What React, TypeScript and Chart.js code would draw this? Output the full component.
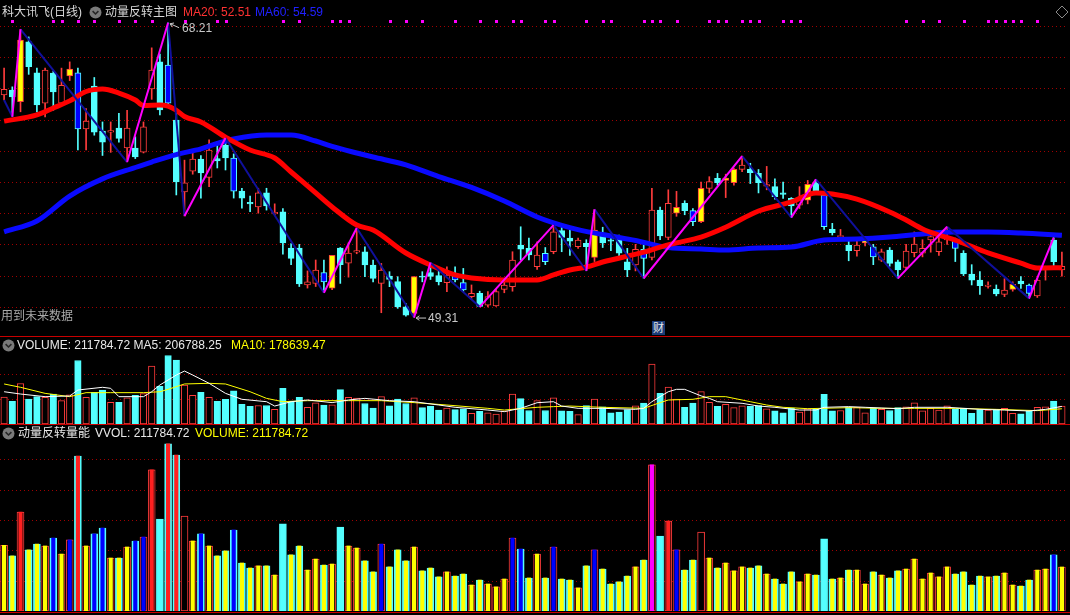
import React, { useEffect, useRef } from "react";
import { Chart, registerables } from "chart.js";
Chart.register(...registerables);

// ---------------- data ----------------
const DAYS = Array.from({ length: 130 }, (_, i) => `D${i + 1}`);

const OPEN = [
  63.58, 63.9, 63.15, 66.99, 65.0, 63.06, 64.99, 63.06, 64.8, 65.0,
  61.4, 64.15, 61.27, 61.2, 61.46, 60.18, 60.18, 59.92, 63.96, 65.7,
  65.5, 61.97, 57.36, 58.7, 59.47, 58.3, 59.5, 60.37, 59.54, 57.42,
  56.7, 56.4, 57.3, 55.95, 56.08, 53.77, 53.77, 51.4, 51.5, 52.2,
  51.2, 53.77, 52.8, 53.5, 53.53, 52.68, 51.5, 51.97, 51.61, 50.0,
  49.58, 51.97, 52.2, 52.0, 51.55, 52.14, 51.55, 50.65, 50.86, 50.11,
  50.05, 51.12, 51.29, 53.96, 53.75, 52.57, 53.43, 53.53, 54.88, 54.4,
  53.85, 54.07, 53.17, 54.6, 54.3, 54.45, 52.89, 52.68, 53.68, 53.17,
  56.2, 54.45, 56.0, 56.63, 56.16, 55.45, 57.59, 58.23, 58.1, 57.95,
  58.81, 58.81, 58.55, 57.74, 57.7, 57.3, 56.95, 56.52, 56.84, 57.91,
  57.16, 54.96, 54.5, 53.96, 53.6, 54.1, 53.85, 52.99, 53.64, 52.89,
  52.53, 53.47, 53.43, 54.28, 53.53, 54.28, 54.28, 53.43, 52.1, 51.71,
  51.3, 51.14, 50.8, 51.12, 51.65, 51.39, 50.69, 52.4, 54.28, 52.36,
];
const HIGH = [
  65.3, 64.1, 67.79, 67.3, 65.3, 65.3, 65.1, 65.3, 65.7, 65.3,
  62.7, 64.7, 61.85, 61.85, 62.4, 62.6, 60.9, 61.85, 66.6, 66.2,
  68.21, 62.5, 59.4, 60.05, 59.7, 60.7, 60.6, 60.82, 59.8, 57.6,
  57.1, 57.6, 57.6, 56.6, 56.3, 54.05, 54.0, 52.3, 53.0, 53.0,
  53.3, 53.8, 54.1, 55.05, 53.85, 53.0, 52.78, 52.25, 51.93, 50.2,
  51.93, 52.25, 52.83, 52.3, 52.57, 52.57, 52.46, 51.4, 51.0, 50.97,
  51.1, 51.8, 53.53, 55.13, 54.4, 54.17, 53.8, 55.24, 55.1, 54.9,
  54.4, 54.3, 56.25, 55.1, 54.6, 54.6, 53.75, 54.0, 53.96, 57.6,
  56.4, 57.5, 57.4, 56.8, 56.3, 58.0, 58.34, 58.55, 58.5, 58.9,
  59.66, 59.2, 58.8, 59.0, 58.2, 58.0, 57.0, 57.7, 58.1, 58.17,
  57.4, 55.35, 54.96, 54.2, 54.28, 54.5, 54.0, 53.7, 53.8, 53.0,
  54.0, 54.8, 54.3, 54.9, 54.5, 55.13, 54.4, 53.6, 52.7, 52.25,
  51.6, 51.4, 51.8, 51.6, 51.93, 51.45, 51.8, 52.6, 54.43, 53.5,
];
const LOW = [
  63.26, 62.19, 62.5, 64.9, 62.5, 62.17, 62.6, 62.9, 64.5, 60.05,
  60.05, 61.0, 59.7, 59.9, 60.56, 59.28, 59.5, 59.86, 63.3, 62.3,
  62.8, 57.17, 55.82, 58.5, 56.97, 57.7, 58.9, 58.77, 56.97, 56.33,
  56.1, 56.0, 56.2, 55.9, 53.38, 52.7, 51.3, 51.2, 51.3, 50.9,
  51.1, 51.5, 51.9, 53.4, 51.93, 51.6, 49.62, 51.29, 49.9, 49.4,
  49.31, 51.6, 51.75, 51.4, 50.97, 51.6, 50.97, 50.55, 50.0, 50.0,
  50.03, 50.9, 51.0, 53.0, 53.0, 52.4, 52.7, 53.4, 53.53, 53.3,
  53.75, 52.31, 52.9, 53.8, 53.6, 53.2, 51.93, 52.3, 51.83, 53.0,
  54.3, 54.3, 55.8, 55.9, 55.2, 55.4, 57.3, 57.8, 57.0, 57.8,
  58.66, 57.9, 57.3, 57.5, 56.9, 56.95, 55.73, 56.3, 56.6, 57.2,
  54.96, 54.6, 54.4, 52.95, 53.25, 53.9, 52.7, 52.9, 52.6, 51.82,
  52.4, 53.2, 53.2, 53.5, 53.3, 54.0, 52.9, 52.0, 51.4, 50.8,
  51.2, 50.7, 50.65, 51.0, 51.18, 50.54, 50.6, 51.71, 52.6, 51.97,
];
const CLOSE = [
  63.94, 63.45, 67.1, 65.39, 62.94, 65.18, 63.77, 64.2, 65.24, 61.4,
  61.9, 61.2, 60.56, 61.3, 60.8, 61.46, 59.6, 61.53, 65.18, 62.62,
  63.06, 58.0, 57.94, 59.47, 58.58, 60.05, 59.35, 59.54, 57.42, 56.97,
  56.6, 57.3, 56.46, 56.05, 54.1, 53.1, 51.46, 51.6, 52.35, 51.6,
  53.3, 52.7, 53.45, 53.6, 52.68, 51.82, 52.36, 51.76, 50.0, 49.47,
  51.93, 51.9, 51.95, 51.61, 52.03, 51.72, 51.08, 50.86, 50.02, 50.65,
  50.97, 51.4, 53.0, 53.7, 53.32, 53.32, 52.89, 54.8, 54.45, 54.2,
  54.28, 53.85, 54.92, 54.1, 54.2, 53.43, 52.36, 53.68, 53.1, 56.2,
  54.54, 56.63, 56.37, 56.16, 55.45, 57.59, 58.02, 57.95, 58.25, 58.81,
  59.09, 58.6, 57.95, 57.84, 57.06, 57.2, 56.46, 56.84, 57.85, 57.44,
  55.13, 54.75, 54.57, 53.6, 53.96, 54.5, 53.2, 53.53, 52.78, 52.36,
  53.57, 54.02, 53.75, 54.5, 54.17, 54.32, 53.75, 52.1, 51.71, 51.35,
  51.4, 50.82, 51.07, 51.44, 51.46, 50.86, 51.71, 52.45, 52.89, 52.6,
];
const VOLUME = [
  316000, 265000, 476000, 294000, 322000, 313000, 351000, 274000, 342000, 746000,
  313000, 371000, 399000, 255000, 255000, 308000, 337000, 356000, 679000, 443000,
  804000, 751000, 457000, 337000, 371000, 313000, 265000, 289000, 390000, 231000,
  207000, 217000, 217000, 173000, 419000, 270000, 313000, 197000, 250000, 221000,
  226000, 404000, 313000, 303000, 241000, 188000, 322000, 212000, 294000, 241000,
  308000, 193000, 207000, 164000, 188000, 168000, 178000, 125000, 149000, 130000,
  116000, 154000, 351000, 298000, 159000, 274000, 159000, 308000, 154000, 149000,
  111000, 217000, 294000, 202000, 130000, 140000, 168000, 212000, 245000, 703000,
  361000, 433000, 294000, 197000, 245000, 380000, 255000, 207000, 231000, 193000,
  212000, 207000, 217000, 178000, 154000, 130000, 188000, 140000, 178000, 173000,
  347000, 154000, 159000, 197000, 197000, 130000, 188000, 173000, 159000, 193000,
  202000, 250000, 154000, 183000, 164000, 212000, 178000, 188000, 125000, 168000,
  164000, 168000, 183000, 125000, 120000, 149000, 197000, 202000, 270000, 211784.72,
];

// special candles (highlighted bodies)
const YELLOW_CANDLES = [2, 8, 40, 50, 72, 82, 85, 88, 89, 98, 105, 123];
const BLUE_CANDLES = [9, 20, 28, 39, 55, 56, 66, 78, 84, 100, 106, 116, 125];

// zigzag pivots [day index, price]
const ZIGZAG = [
  [0, 63.26], [1, 62.19], [2, 67.79], [15, 59.28], [20, 68.21], [22, 55.82],
  [27, 60.82], [39, 50.9], [43, 55.05], [50, 49.31], [52, 52.83], [58, 50.0],
  [67, 55.24], [71, 52.31], [72, 56.25], [78, 51.83], [90, 59.66], [96, 55.73],
  [99, 58.17], [109, 51.82], [115, 55.13], [125, 50.54], [128, 54.43],
];

// moving averages [day index, value]
const MA20 = [
  [0, 61.9], [4, 62.3], [6, 62.74], [8, 63.2], [10, 63.8], [12, 63.96], [14, 63.7],
  [16, 63.26], [17, 62.9], [19, 62.94], [20, 62.87], [21, 62.6], [22, 62.2], [24, 61.85],
  [27, 60.88], [30, 60.05], [33, 59.54], [35, 58.64], [38, 57.3], [40, 56.4], [43, 55.24],
  [45, 54.92], [49, 53.45], [52, 52.68], [55, 52.04], [57, 51.85], [61, 51.72], [65, 51.72],
  [67, 52.04], [69, 52.36], [71, 52.55], [73, 52.87], [78, 53.5], [80, 53.83], [82, 54.1],
  [85, 54.47], [88, 55.1], [92, 56.14], [96, 56.72], [99, 57.3], [101, 57.23], [104, 56.9],
  [108, 56.08], [110, 55.56], [112, 54.99], [114, 54.6], [116, 54.28], [120, 53.45],
  [124, 52.8], [126, 52.49], [129, 52.51],
];
const MA60 = [
  [0, 54.81], [4, 55.5], [8, 57.1], [12, 58.2], [16, 58.93], [18, 59.28], [21, 59.76],
  [24, 60.12], [26, 60.47], [28, 60.76], [32, 61.01], [35, 61.01], [38, 60.63], [40, 60.28],
  [43, 59.86], [45, 59.6], [49, 59.1], [53, 58.35], [57, 57.65], [61, 56.78], [65, 55.76],
  [69, 55.08], [73, 54.63], [77, 54.25], [81, 53.8], [85, 53.71], [88, 53.64], [92, 53.77],
  [96, 53.83], [100, 54.28], [104, 54.35], [108, 54.47], [112, 54.67], [116, 54.79],
  [120, 54.79], [124, 54.73], [129, 54.59],
];
const VOL_MA5 = [
  [0, 379000], [2, 352000], [5, 321000], [8, 329000], [9, 399000], [12, 431000], [13, 419000],
  [14, 321000], [17, 321000], [18, 379000], [19, 458000], [21, 575000], [22, 622000],
  [23, 575000], [25, 478000], [27, 360000], [29, 290000], [32, 262000], [33, 211000],
  [35, 262000], [37, 282000], [40, 251000], [42, 282000], [44, 301000], [47, 274000],
  [50, 262000], [53, 223000], [55, 196000], [59, 164000], [61, 145000], [63, 184000],
  [65, 250000], [67, 262000], [68, 211000], [70, 184000], [73, 184000], [77, 172000],
  [78, 184000], [79, 262000], [80, 321000], [81, 379000], [82, 407000], [83, 407000],
  [85, 330000], [86, 301000], [87, 262000], [90, 243000], [92, 211000], [94, 196000],
  [97, 164000], [99, 164000], [100, 196000], [103, 204000], [105, 196000], [109, 180000],
  [111, 196000], [115, 196000], [119, 172000], [122, 164000], [125, 153000], [127, 172000],
  [129, 206788.25],
];
const VOL_MA10 = [
  [0, 470000], [2, 431000], [5, 360000], [8, 321000], [10, 368000], [13, 368000], [17, 368000],
  [19, 379000], [20, 407000], [22, 470000], [25, 478000], [27, 470000], [30, 379000],
  [32, 301000], [34, 262000], [37, 274000], [42, 274000], [46, 274000], [50, 251000],
  [54, 223000], [59, 184000], [61, 164000], [65, 196000], [67, 204000], [69, 211000],
  [73, 196000], [78, 184000], [80, 251000], [81, 282000], [84, 290000], [86, 321000],
  [88, 321000], [91, 262000], [93, 223000], [95, 196000], [98, 180000], [103, 192000],
  [107, 184000], [111, 184000], [116, 184000], [121, 172000], [126, 157000], [129, 178639.47],
];

// inner stick of the momentum-volume panel: Y yellow, B blue, R red, M magenta, - none
const VVOL_MARK =
  "YYRYYYBYBR" + "YBBYYYBBR-" + "RR-YBYYYBY" + "YYYY-YYYYY" + "Y-YYYYBYYY" +
  "YYYYYYYYYY" + "YYBBYYYBYY" + "YYBYYYYYYM" + "-RBYY-YYYY" + "YYYYYYYYYY" +
  "-YYYYYYYYY" + "YYYYYYYYYY" + "YYYYYYYYBY";

// top-row signal dots
const SIGNAL_DAYS = [
  1, 6, 7, 9, 11, 14, 16, 18, 22, 26, 27, 34, 36, 40, 41, 42, 47, 49, 51, 55, 58, 60, 62, 63,
  66, 67, 71, 73, 74, 78, 79, 80, 82, 86, 87, 88, 90, 91, 92, 95, 96, 97, 110, 112, 114, 117,
  120, 121, 122, 123, 124, 126,
];

const PRICE_GRID = [50, 52, 54, 56, 58, 60, 62, 64, 66, 68];
const VOL_GRID = [292000, 584000];
const VVOL_GRID = [146000, 292000, 438000, 584000, 730000];

// ---------------- styles ----------------
const RED = "#ff3c3c";
const CYAN = "#54ffff";
const YELLOW = "#ffff00";
const BLUE = "#0000ff";
const MAGENTA = "#ff00ff";
const NAVY = "#10109c";
const GRID = "#a00000";
const FONT = '"Liberation Sans", "Noto Sans CJK SC", Arial, sans-serif';

const sparse = (pts: number[][]) => {
  const arr: (number | null)[] = DAYS.map(() => null);
  pts.forEach(([i, v]) => (arr[i] = v));
  return arr;
};

const hgrid = {
  id: "hgrid",
  beforeDatasetsDraw(chart: any, _a: any, opts: any) {
    const { ctx, chartArea, scales } = chart;
    ctx.save();
    ctx.strokeStyle = GRID;
    ctx.lineWidth = 1;
    ctx.setLineDash([1, 3]);
    for (const v of opts.values || []) {
      const py = Math.round(scales.y.getPixelForValue(v)) + 0.5;
      ctx.beginPath();
      ctx.moveTo(chartArea.left, py);
      ctx.lineTo(chartArea.right + 4, py);
      ctx.stroke();
    }
    ctx.restore();
  },
};

const signalDots = {
  id: "signalDots",
  afterDatasetsDraw(chart: any) {
    const { ctx, scales } = chart;
    ctx.save();
    ctx.fillStyle = MAGENTA;
    SIGNAL_DAYS.forEach((d) => {
      const px = Math.round(scales.x.getPixelForValue(d));
      ctx.fillRect(px - 1, 20, 3, 3);
    });
    ctx.restore();
  },
};

function arrow(ctx: CanvasRenderingContext2D, x1: number, y1: number, x2: number, y2: number) {
  const a = Math.atan2(y2 - y1, x2 - x1);
  ctx.beginPath();
  ctx.moveTo(x1, y1);
  ctx.lineTo(x2, y2);
  ctx.moveTo(x2, y2);
  ctx.lineTo(x2 - 4 * Math.cos(a - 0.6), y2 - 4 * Math.sin(a - 0.6));
  ctx.moveTo(x2, y2);
  ctx.lineTo(x2 - 4 * Math.cos(a + 0.6), y2 - 4 * Math.sin(a + 0.6));
  ctx.stroke();
}

const extremes = {
  id: "extremes",
  afterDatasetsDraw(chart: any) {
    const { ctx, scales } = chart;
    let hi = 0;
    let lo = 0;
    HIGH.forEach((v, i) => { if (v > HIGH[hi]) hi = i; });
    LOW.forEach((v, i) => { if (v < LOW[lo]) lo = i; });
    ctx.save();
    ctx.strokeStyle = "#c8c8c8";
    ctx.fillStyle = "#c8c8c8";
    ctx.lineWidth = 1;
    ctx.font = `12px ${FONT}`;
    ctx.textBaseline = "middle";
    const hx = scales.x.getPixelForValue(hi);
    const hy = scales.y.getPixelForValue(HIGH[hi]);
    arrow(ctx, hx + 11, hy + 5, hx + 2, hy + 1);
    ctx.fillText(HIGH[hi].toFixed(2), hx + 14, hy + 5.5);
    const lx = scales.x.getPixelForValue(lo);
    const ly = scales.y.getPixelForValue(LOW[lo]);
    arrow(ctx, lx + 12, ly + 0.5, lx + 2, ly + 0.5);
    ctx.fillText(LOW[lo].toFixed(2), lx + 14, ly + 1.5);
    ctx.restore();
  },
};

const baseOptions = (min: number, max: number, grid: number[]) => ({
  responsive: false,
  maintainAspectRatio: false,
  animation: false as const,
  devicePixelRatio: 1,
  events: [] as any[],
  layout: { padding: 0 },
  plugins: {
    legend: { display: false },
    tooltip: { enabled: false },
    hgrid: { values: grid },
  },
  scales: {
    x: { type: "category" as const, offset: true, display: false, grid: { display: false } },
    y: { type: "linear" as const, min, max, display: false, grid: { display: false } },
  },
});

function Icon({ left, top }: { left: number; top: number }) {
  return (
    <svg style={{ position: "absolute", left, top }} width={13} height={13} viewBox="0 0 13 13">
      <circle cx={6.5} cy={6.5} r={6} fill="#7a7a7a" />
      <path d="M3.6 5.2 L6.5 8 L9.4 5.2" stroke="#262626" strokeWidth={1.6} fill="none" />
    </svg>
  );
}

function Txt({ x, y, color, children }: { x: number; y: number; color: string; children: any }) {
  return (
    <span
      style={{
        position: "absolute",
        left: x,
        top: y,
        color,
        fontSize: 12,
        lineHeight: "16px",
        whiteSpace: "nowrap",
        fontFamily: FONT,
      }}
    >
      {children}
    </span>
  );
}

export default function App() {
  const mainRef = useRef<HTMLCanvasElement>(null);
  const volRef = useRef<HTMLCanvasElement>(null);
  const vvolRef = useRef<HTMLCanvasElement>(null);

  useEffect(() => {
    document.body.style.margin = "0";
    document.body.style.background = "#000";
    const yellowSet = new Set(YELLOW_CANDLES);
    const blueSet = new Set(BLUE_CANDLES);
    const isUp = (i: number) => CLOSE[i] >= OPEN[i];
    const bodyFill = DAYS.map((_, i) =>
      yellowSet.has(i) ? YELLOW : blueSet.has(i) ? BLUE : isUp(i) ? "#000000" : CYAN
    );
    const edge = DAYS.map((_, i) => (isUp(i) ? RED : CYAN));
    const volFill = DAYS.map((_, i) => (isUp(i) ? "#000000" : CYAN));
    const markColor: Record<string, string> = { Y: YELLOW, B: BLUE, R: "#ff2020", M: MAGENTA };

    // one line dataset per zigzag leg, coloured by direction
    const zigzagLegs = ZIGZAG.slice(1).map((p, k) => {
      const prev = ZIGZAG[k];
      const rising = p[1] >= prev[1];
      return {
        type: "line",
        label: `leg${k}`,
        data: sparse([prev, p]),
        borderColor: rising ? MAGENTA : NAVY,
        borderWidth: 2,
        pointRadius: 0,
        spanGaps: true,
        order: rising ? 0 : 1,
      } as any;
    });

    const charts: Chart[] = [];

    charts.push(
      new Chart(mainRef.current!, {
        type: "bar",
        data: {
          labels: DAYS,
          datasets: [
            ...zigzagLegs,
            {
              type: "line",
              label: "MA20",
              data: sparse(MA20),
              borderColor: "#ff0000",
              borderWidth: 5,
              pointRadius: 0,
              spanGaps: true,
              cubicInterpolationMode: "monotone",
              order: 2,
            } as any,
            {
              type: "line",
              label: "MA60",
              data: sparse(MA60),
              borderColor: "#0a0aff",
              borderWidth: 5,
              pointRadius: 0,
              spanGaps: true,
              cubicInterpolationMode: "monotone",
              order: 3,
            } as any,
            {
              type: "bar",
              label: "body",
              data: OPEN.map((o, i) => [Math.min(o, CLOSE[i]), Math.max(o, CLOSE[i])]),
              backgroundColor: bodyFill,
              borderColor: edge,
              borderWidth: 1,
              borderSkipped: false,
              barThickness: 6,
              minBarLength: 1,
              grouped: false,
              order: 4,
            } as any,
            {
              type: "bar",
              label: "wick",
              data: LOW.map((l, i) => [l, HIGH[i]]),
              backgroundColor: edge,
              barThickness: 1,
              grouped: false,
              order: 5,
            } as any,
          ],
        },
        options: baseOptions(48.128, 69.667, PRICE_GRID) as any,
        plugins: [hgrid, signalDots, extremes],
      })
    );

    charts.push(
      new Chart(volRef.current!, {
        type: "bar",
        data: {
          labels: DAYS,
          datasets: [
            {
              type: "line",
              label: "MA5",
              data: sparse(VOL_MA5),
              borderColor: "#ffffff",
              borderWidth: 1,
              pointRadius: 0,
              spanGaps: true,
              order: 1,
            } as any,
            {
              type: "line",
              label: "MA10",
              data: sparse(VOL_MA10),
              borderColor: YELLOW,
              borderWidth: 1,
              pointRadius: 0,
              spanGaps: true,
              order: 2,
            } as any,
            {
              type: "bar",
              label: "VOLUME",
              data: VOLUME,
              backgroundColor: volFill,
              borderColor: edge,
              borderWidth: 1,
              borderSkipped: false,
              barThickness: 6.5,
              grouped: false,
              order: 3,
            } as any,
          ],
        },
        options: baseOptions(0, 1021700, VOL_GRID) as any,
        plugins: [hgrid],
      })
    );

    charts.push(
      new Chart(vvolRef.current!, {
        type: "bar",
        data: {
          labels: DAYS,
          datasets: [
            {
              type: "bar",
              label: "inner",
              data: VOLUME.map((v, i) => (VVOL_MARK[i] === "-" ? null : v)),
              backgroundColor: DAYS.map((_, i) => markColor[VVOL_MARK[i]] || "#000"),
              borderWidth: 0,
              barThickness: 3.5,
              grouped: false,
              order: 1,
            } as any,
            {
              type: "bar",
              label: "VVOL",
              data: VOLUME,
              backgroundColor: volFill,
              borderColor: edge,
              borderWidth: 1,
              borderSkipped: false,
              barThickness: 7,
              grouped: false,
              order: 2,
            } as any,
          ],
        },
        options: baseOptions(0, 890400, VVOL_GRID) as any,
        plugins: [hgrid],
      })
    );

    return () => charts.forEach((c) => c.destroy());
  }, []);

  return (
    <div
      style={{
        position: "absolute",
        left: 0,
        top: 0,
        width: 1070,
        height: 615,
        background: "#000",
        overflow: "hidden",
        fontFamily: FONT,
      }}
    >
      <canvas ref={mainRef} width={1066} height={336} style={{ position: "absolute", left: 0, top: 0 }} />
      <canvas ref={volRef} width={1066} height={87} style={{ position: "absolute", left: 0, top: 337 }} />
      <canvas ref={vvolRef} width={1066} height={185} style={{ position: "absolute", left: 0, top: 426 }} />

      <div style={{ position: "absolute", left: 0, top: 336, width: 1070, height: 1, background: "#c80000" }} />
      <div style={{ position: "absolute", left: 0, top: 424, width: 1070, height: 1, background: "#c80000" }} />
      <div style={{ position: "absolute", left: 0, top: 612, width: 1070, height: 1, background: "#c80000" }} />

      <Txt x={2} y={4} color="#d8d8d8">科大讯飞(日线)</Txt>
      <Icon left={88.5} top={5.5} />
      <Txt x={105} y={4} color="#d8d8d8">动量反转主图</Txt>
      <Txt x={183} y={4} color="#ff3232">MA20: 52.51</Txt>
      <Txt x={255} y={4} color="#2020ff">MA60: 54.59</Txt>

      <svg style={{ position: "absolute", left: 1055, top: 5 }} width={14} height={14} viewBox="0 0 14 14">
        <polygon points="7,1 13,7 7,13 1,7" stroke="#8a8a8a" strokeWidth={1} fill="none" />
      </svg>

      <Txt x={1} y={308} color="#a8a8a8">用到未来数据</Txt>
      <div
        style={{
          position: "absolute",
          left: 652,
          top: 321,
          width: 13,
          height: 14,
          background: "#1c3c78",
          color: "#e8e8e8",
          fontSize: 11,
          lineHeight: "14px",
          textAlign: "center",
          fontFamily: FONT,
        }}
      >
        财
      </div>

      <Icon left={1.5} top={338.5} />
      <Txt x={17} y={337} color="#e8e8e8">VOLUME: 211784.72 MA5: 206788.25</Txt>
      <Txt x={231} y={337} color={YELLOW}>MA10: 178639.47</Txt>

      <Icon left={1.5} top={426.5} />
      <Txt x={18} y={425} color="#e8e8e8">动量反转量能</Txt>
      <Txt x={95} y={425} color="#e8e8e8">VVOL: 211784.72</Txt>
      <Txt x={195} y={425} color={YELLOW}>VOLUME: 211784.72</Txt>
    </div>
  );
}
